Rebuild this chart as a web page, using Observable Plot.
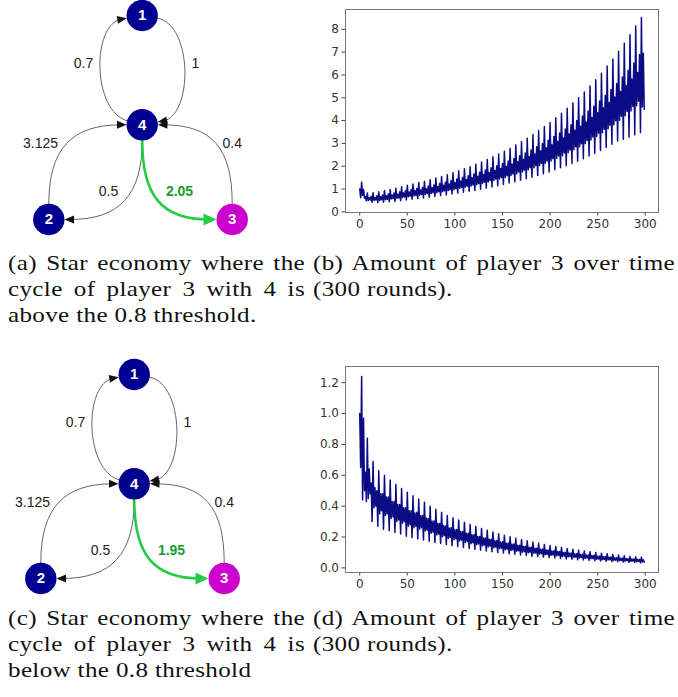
<!DOCTYPE html>
<html>
<head>
<meta charset="utf-8">
<script src="https://cdn.jsdelivr.net/npm/d3@7"></script>
<script src="https://cdn.jsdelivr.net/npm/@observablehq/plot@0.6"></script>
<style>
  html, body { margin: 0; padding: 0; background: #fff; }
  #page { position: relative; width: 678px; height: 697px; overflow: hidden; background: #fff; }
  .abs { position: absolute; }
  .cap { position: absolute; font-family: "Liberation Serif", serif; font-size: 22px; letter-spacing: 0.3px; line-height: 26px; color: #111; transform: scaleX(1.14); transform-origin: 0 0; }
  .j { text-align: justify; text-align-last: justify; }
  .ts svg text { font-size: 12px !important; font-family: "DejaVu Sans", sans-serif !important; fill: #333; }
</style>
</head>
<body>
<div id="page"></div>
<script>
// ---------------- Diagram data (star economy) ----------------
const nodeIds   = ["1", "2", "3", "4"];
const nodeX     = [141.7, 48.3, 231.7, 141.7];
const nodeY     = [15, 219, 219, 124.3];
const nodeColor = ["#000091", "#000091", "#cc00cc", "#000091"];

const edgeFrom    = ["4", "1", "2", "4", "3", "4"];
const edgeTo      = ["1", "4", "4", "2", "4", "3"];
const edgeExit    = [195, 10, -90, 90, -90, 90];   // leaving angle on the source node (deg)
const edgeEntry   = [170, -10, 180, 0, 0, 180];    // arriving side on the target node (deg)
const edgeTension = [36, 36, 55, 55, 55, 55];
const edgeLabelsA = ["0.7", "1", "3.125", "0.5", "0.4", "2.05"];
const edgeLabelsC = ["0.7", "1", "3.125", "0.5", "0.4", "1.95"];
const edgeLabelX  = [83, 195, 40, 108, 231.7, 179];
const edgeLabelY  = [63, 63, 143, 191, 143, 191];
const highlightEdge = 5; // 4 -> 3

// ---------------- Time series: amount of player 3 (6-round cycles) ----------------
// Each array holds one phase of every cycle (rounds 6k+0 ... 6k+5).
const b_hiA    = [1.00,0.68,0.68,0.70,0.74,0.78,0.82,0.88,0.93,0.98,1.02,1.07,1.13,1.18,1.24,1.30,1.37,1.44,1.51,1.58,1.66,1.74,1.83,1.93,2.02,2.12,2.23,2.34,2.46,2.58,2.71,2.85,2.99,3.14,3.30,3.46,3.63,3.82,4.00,4.20,4.42,4.63,4.86,5.11,5.36,5.63,5.91,6.21,6.52,6.90];
const b_trough = [0.62,0.48,0.42,0.40,0.42,0.44,0.46,0.49,0.52,0.55,0.58,0.61,0.64,0.67,0.71,0.74,0.78,0.82,0.86,0.90,0.94,0.99,1.04,1.09,1.14,1.20,1.26,1.32,1.38,1.45,1.52,1.59,1.67,1.75,1.84,1.93,2.02,2.12,2.22,2.33,2.45,2.57,2.69,2.82,2.96,3.10,3.18,3.28,3.38,3.48];
const b_peak   = [1.30,0.82,0.84,0.88,0.93,0.98,1.03,1.10,1.16,1.22,1.28,1.34,1.41,1.48,1.55,1.63,1.71,1.80,1.89,1.98,2.08,2.18,2.29,2.41,2.53,2.65,2.79,2.93,3.07,3.23,3.39,3.56,3.74,3.92,4.12,4.32,4.54,4.77,5.00,5.25,5.52,5.79,6.08,6.39,6.70,7.04,7.39,7.76,8.15,8.52];
const b_loA    = [0.72,0.50,0.50,0.50,0.53,0.56,0.59,0.63,0.66,0.70,0.73,0.76,0.80,0.84,0.88,0.93,0.97,1.03,1.08,1.13,1.19,1.24,1.31,1.37,1.44,1.51,1.59,1.67,1.75,1.84,1.93,2.03,2.13,2.23,2.35,2.46,2.59,2.72,2.85,2.99,3.15,3.30,3.47,3.64,3.82,4.01,4.21,4.42,4.65,4.60];
const b_hiB    = [0.98,0.62,0.63,0.66,0.70,0.74,0.77,0.83,0.87,0.92,0.96,1.01,1.06,1.11,1.16,1.22,1.28,1.35,1.42,1.49,1.56,1.64,1.72,1.81,1.90,1.99,2.09,2.20,2.30,2.42,2.54,2.67,2.81,2.94,3.09,3.24,3.41,3.58,3.75,3.94,4.14,4.34,4.56,4.79,5.03,5.28,5.54,5.82,6.11,6.95];
const b_loB    = [0.60,0.52,0.52,0.53,0.55,0.58,0.61,0.65,0.69,0.72,0.76,0.80,0.84,0.88,0.92,0.97,1.02,1.07,1.12,1.18,1.24,1.30,1.37,1.44,1.51,1.58,1.66,1.75,1.83,1.93,2.02,2.12,2.23,2.33,2.45,2.58,2.71,2.85,2.98,3.13,3.28,3.45,3.62,3.80,3.99,4.19,4.40,4.62,4.85,4.50];

const d_hiA    = [1.00,0.62,0.55,0.50,0.48,0.46,0.43,0.41,0.39,0.37,0.36,0.34,0.32,0.304,0.288,0.272,0.260,0.248,0.236,0.225,0.214,0.204,0.194,0.186,0.177,0.169,0.161,0.154,0.146,0.140,0.134,0.127,0.122,0.116,0.111,0.106,0.101,0.096,0.092,0.088,0.084,0.080,0.076,0.073,0.070,0.066,0.063,0.060,0.058,0.055];
const d_trough = [0.65,0.43,0.30,0.27,0.25,0.24,0.23,0.22,0.205,0.196,0.188,0.180,0.172,0.165,0.158,0.151,0.144,0.138,0.132,0.126,0.120,0.115,0.110,0.105,0.100,0.096,0.092,0.088,0.084,0.080,0.076,0.073,0.070,0.067,0.064,0.061,0.058,0.056,0.053,0.051,0.049,0.047,0.045,0.043,0.041,0.040,0.038,0.036,0.035,0.033];
const d_peak   = [1.24,0.84,0.69,0.63,0.60,0.57,0.54,0.515,0.49,0.468,0.446,0.425,0.400,0.380,0.360,0.340,0.325,0.310,0.295,0.281,0.268,0.255,0.243,0.232,0.221,0.211,0.201,0.192,0.183,0.175,0.167,0.159,0.152,0.145,0.139,0.132,0.126,0.120,0.115,0.110,0.105,0.100,0.095,0.091,0.087,0.083,0.079,0.075,0.072,0.069];
const d_loA    = [0.44,0.45,0.39,0.35,0.34,0.32,0.30,0.29,0.27,0.26,0.25,0.24,0.224,0.213,0.202,0.190,0.182,0.174,0.165,0.157,0.150,0.143,0.136,0.130,0.124,0.118,0.113,0.108,0.102,0.098,0.094,0.089,0.085,0.081,0.078,0.074,0.071,0.067,0.064,0.062,0.059,0.056,0.053,0.051,0.049,0.046,0.044,0.042,0.040,0.038];
const d_hiB    = [0.97,0.64,0.52,0.48,0.46,0.43,0.41,0.39,0.37,0.356,0.339,0.323,0.304,0.289,0.274,0.258,0.247,0.236,0.224,0.214,0.204,0.194,0.185,0.176,0.168,0.160,0.153,0.146,0.139,0.133,0.127,0.121,0.116,0.110,0.106,0.100,0.096,0.091,0.087,0.084,0.080,0.076,0.072,0.069,0.066,0.063,0.060,0.057,0.055,0.052];
const d_loB    = [0.50,0.48,0.40,0.37,0.35,0.33,0.31,0.30,0.28,0.27,0.26,0.245,0.232,0.220,0.209,0.197,0.189,0.180,0.171,0.163,0.156,0.148,0.141,0.135,0.128,0.122,0.117,0.111,0.106,0.102,0.097,0.092,0.088,0.084,0.081,0.077,0.073,0.070,0.067,0.064,0.061,0.058,0.055,0.053,0.050,0.048,0.046,0.044,0.042,0.037];

const xTicks  = [0, 50, 100, 150, 200, 250, 300];
const yTicksB = [0, 1, 2, 3, 4, 5, 6, 7, 8];
const yTicksD = [0, 0.2, 0.4, 0.6, 0.8, 1.0, 1.2];

const captionsTop = [
  ["(a) Star economy where the", "cycle of player 3 with 4 is", "above the 0.8 threshold."],
  ["(b) Amount of player 3 over time", "(300 rounds)."]
];
const captionsBottom = [
  ["(c) Star economy where the", "cycle of player 3 with 4 is", "below the 0.8 threshold"],
  ["(d) Amount of player 3 over time", "(300 rounds)."]
];

// ---------------- helpers ----------------
const page = document.getElementById("page");
function place(el, left, top, cls) {
  const w = document.createElement("div");
  w.className = "abs" + (cls ? " " + cls : "");
  w.style.left = left + "px";
  w.style.top = top + "px";
  w.appendChild(el);
  page.appendChild(w);
}

// cubic Bézier "curve" for Plot.line: start, control 1, control 2, end
function bezierCurve(context) {
  let p = [];
  return {
    areaStart() {}, areaEnd() {},
    lineStart() { p = []; },
    point(x, y) { p.push([+x, +y]); },
    lineEnd() {
      if (p.length === 4) {
        context.moveTo(p[0][0], p[0][1]);
        context.bezierCurveTo(p[1][0], p[1][1], p[2][0], p[2][1], p[3][0], p[3][1]);
      }
    }
  };
}

const R = 15.7;
const rad = Math.PI / 180;

function diagram(labels) {
  const nodes = nodeIds.map((id, i) => ({id, x: nodeX[i], y: nodeY[i], fill: nodeColor[i]}));
  const pos = Object.fromEntries(nodes.map(n => [n.id, n]));
  const marks = [];
  edgeFrom.forEach((f, i) => {
    const a = pos[f], t = pos[edgeTo[i]];
    const hi = i === highlightEdge;
    const stroke = hi ? "#22cc44" : "#666";
    const headFill = hi ? "#22cc44" : "#111";
    const sw = hi ? 2.6 : 1;
    const hl = hi ? 13 : 9.5, hw = hi ? 6 : 4;
    const ex = Math.cos(edgeExit[i] * rad), ey = Math.sin(edgeExit[i] * rad);
    const nx = Math.cos(edgeEntry[i] * rad), ny = Math.sin(edgeEntry[i] * rad);
    const k = edgeTension[i];
    const p0 = [a.x + R * ex, a.y + R * ey];
    const tip = [t.x + R * nx, t.y + R * ny];
    const p3 = [tip[0] + hl * 0.6 * nx, tip[1] + hl * 0.6 * ny];
    const c1 = [p0[0] + k * ex, p0[1] + k * ey];
    const c2 = [tip[0] + k * nx, tip[1] + k * ny];
    const path = [p0, c1, c2, p3].map(([x, y]) => ({x, y}));
    marks.push(Plot.line(path, {x: "x", y: "y", curve: bezierCurve, stroke, strokeWidth: sw}));
    const bx = tip[0] + hl * nx, by = tip[1] + hl * ny;
    const px = -ny, py = nx;
    const tri = [
      {x: tip[0], y: tip[1]},
      {x: bx + hw * px, y: by + hw * py},
      {x: bx - hw * px, y: by - hw * py}
    ];
    marks.push(Plot.line(tri, {x: "x", y: "y", fill: headFill, stroke: "none"}));
  });
  marks.push(Plot.dot(nodes, {x: "x", y: "y", r: R, fill: "fill", stroke: "none"}));
  marks.push(Plot.text(nodes, {x: "x", y: "y", text: "id", fill: "white", fontWeight: "bold", fontSize: 15}));
  const lab = labels.map((t, i) => ({t, x: edgeLabelX[i], y: edgeLabelY[i], hi: i === highlightEdge}));
  marks.push(Plot.text(lab.filter(d => !d.hi), {x: "x", y: "y", text: "t", fill: "#222", fontSize: 14}));
  marks.push(Plot.text(lab.filter(d => d.hi), {x: "x", y: "y", text: "t", fill: "#1a9a35", fontSize: 14, fontWeight: "bold"}));
  return Plot.plot({
    width: 270, height: 240, margin: 0,
    style: {fontFamily: "'Liberation Sans', Arial, sans-serif", background: "transparent", overflow: "visible"},
    x: {domain: [0, 270], range: [0, 270], axis: null},
    y: {domain: [0, 240], range: [0, 240], axis: null},
    color: {type: "identity"},
    marks
  });
}

function seriesRows(phases) {
  const rows = [];
  for (let k = 0; k < phases[0].length; ++k)
    for (let p = 0; p < phases.length; ++p)
      rows.push({round: 6 * k + p, value: phases[p][k]});
  return rows;
}

function series(rows, yDomain, yTicks, fmt, height, marginTop, marginBottom) {
  return Plot.plot({
    width: 358, height, marginLeft: 25, marginRight: 20, marginTop, marginBottom,
    style: {fontFamily: "'DejaVu Sans', sans-serif", fontSize: "12px", color: "#444", background: "transparent"},
    x: {domain: [-14.95, 313.95], ticks: xTicks, tickSize: 3.5, tickPadding: 3, label: null},
    y: {domain: yDomain, ticks: yTicks, tickFormat: fmt, tickSize: 3.5, tickPadding: 3, label: null},
    marks: [
      Plot.line(rows, {x: "round", y: "value", stroke: "#0b0b85", strokeWidth: 1.5}),
      Plot.frame({stroke: "#777"})
    ]
  });
}

const STRETCH = 1.14;
function caption(lines, left, top, width) {
  lines.forEach((t, i) => {
    const d = document.createElement("div");
    d.className = "cap" + (i < lines.length - 1 ? " j" : "");
    d.style.left = left + "px";
    d.style.top = (top + i * 26) + "px";
    d.style.width = (width / STRETCH) + "px";
    d.textContent = t;
    page.appendChild(d);
  });
}

// ---------------- build ----------------
place(diagram(edgeLabelsA), 0, 0);
place(diagram(edgeLabelsC), -8, 359);
place(series(seriesRows([b_hiA, b_trough, b_peak, b_loA, b_hiB, b_loB]), [-0.03, 8.87], yTicksB, d3.format("d"), 235, 9, 23), 320, 0, "ts");
place(series(seriesRows([d_hiA, d_trough, d_peak, d_loA, d_hiB, d_loB]), [-0.03, 1.305], yTicksD, d3.format(".1f"), 240, 11, 23), 320, 355, "ts");

caption(captionsTop[0], 8, 250, 297);
caption(captionsTop[1], 313, 250, 362);
caption(captionsBottom[0], 8, 605, 297);
caption(captionsBottom[1], 313, 605, 362);
</script>
</body>
</html>
